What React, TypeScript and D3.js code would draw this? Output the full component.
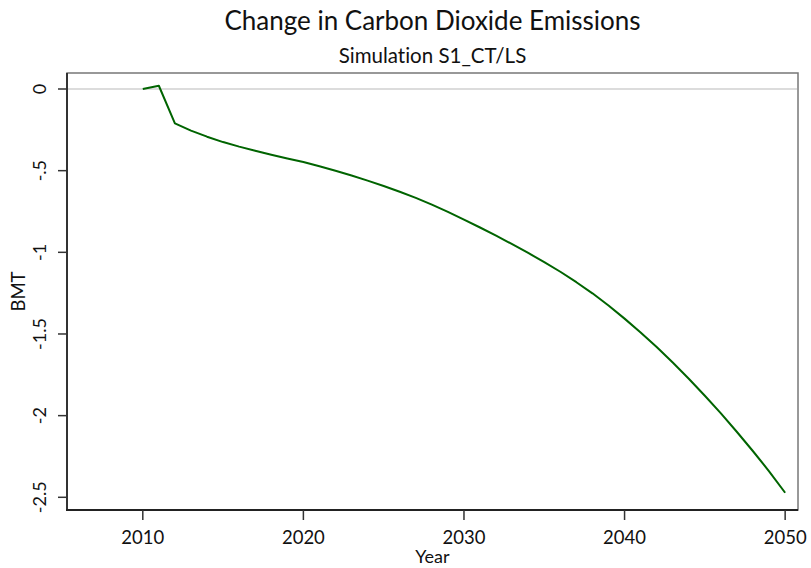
import React from "react";
import * as d3 from "d3";

const years: number[] = [
  2010, 2011, 2012, 2013, 2014, 2015, 2016, 2017, 2018, 2019,
  2020, 2021, 2022, 2023, 2024, 2025, 2026, 2027, 2028, 2029,
  2030, 2031, 2032, 2033, 2034, 2035, 2036, 2037, 2038, 2039,
  2040, 2041, 2042, 2043, 2044, 2045, 2046, 2047, 2048, 2049, 2050,
];
const co2Change: number[] = [
  0, 0.02, -0.21, -0.255, -0.292, -0.325, -0.353, -0.378, -0.402, -0.425,
  -0.447, -0.473, -0.501, -0.53, -0.561, -0.594, -0.629, -0.667, -0.708, -0.752,
  -0.8, -0.848, -0.898, -0.95, -1.004, -1.06, -1.119, -1.183, -1.251, -1.326,
  -1.406, -1.491, -1.58, -1.675, -1.774, -1.878, -1.986, -2.1, -2.218, -2.341, -2.472,
];
const xTicks: number[] = [2010, 2020, 2030, 2040, 2050];
const yTicks: number[] = [0, -0.5, -1, -1.5, -2, -2.5];
const yTickLabels: string[] = ["0", "-.5", "-1", "-1.5", "-2", "-2.5"];

const W = 811;
const H = 568;
const left = 67, right = 798, top = 73, bottom = 510;
const FONT = "Lato, 'Noto Sans', sans-serif";
const noLig: React.CSSProperties = { fontFeatureSettings: '"liga" 0, "clig" 0', fontVariantLigatures: "none" };

export default function App() {
  const x = d3.scaleLinear().domain([2005.28, 2050.8]).range([left, right]);
  const y = d3.scaleLinear().domain([0, -2.5]).range([89, 497.3]);
  const line = d3
    .line<number>()
    .x((_, i) => x(years[i]))
    .y((d) => y(d));
  const cx = (left + right) / 2;

  return (
    <svg
      width={W}
      height={H}
      style={{ position: "absolute", left: 0, top: 0, background: "#fff", ...noLig }}
      fontFamily={FONT}
    >
      <rect x={0} y={0} width={W} height={H} fill="#fff" />
      <text x={cx} y={30} textAnchor="middle" fontSize={26} fill="#111" style={noLig}>
        Change in Carbon Dioxide Emissions
      </text>
      <text x={cx} y={63} textAnchor="middle" fontSize={20.5} fill="#111" style={noLig}>
        Simulation S1_CT/LS
      </text>
      {/* plot frame */}
      <rect x={left} y={top} width={right - left} height={bottom - top} fill="#fff" stroke="#777" strokeWidth={1.5} />
      {/* zero gridline */}
      <line x1={left + 1} x2={right - 1} y1={y(0)} y2={y(0)} stroke="#dcdcdc" strokeWidth={2} />
      {/* axes */}
      <line x1={left} x2={left} y1={top} y2={bottom + 1} stroke="#333" strokeWidth={2} />
      <line x1={left - 1} x2={right} y1={bottom} y2={bottom} stroke="#222" strokeWidth={2} />
      {yTicks.map((t, i) => (
        <g key={"y" + i}>
          <line x1={left - 9} x2={left} y1={y(t)} y2={y(t)} stroke="#333" strokeWidth={1.5} />
          <text
            transform={`translate(${left - 21},${y(t)}) rotate(-90)`}
            textAnchor="middle"
            fontSize={18}
            fill="#111"
          >
            {yTickLabels[i]}
          </text>
        </g>
      ))}
      {xTicks.map((t) => (
        <g key={"x" + t}>
          <line x1={x(t)} x2={x(t)} y1={bottom} y2={bottom + 10} stroke="#333" strokeWidth={1.5} />
          <text x={x(t)} y={544} textAnchor="middle" fontSize={18.5} fill="#111">
            {t}
          </text>
        </g>
      ))}
      <text x={cx} y={563} textAnchor="middle" fontSize={18} fill="#111">
        Year
      </text>
      <text transform={`translate(25,${(top + bottom) / 2}) rotate(-90)`} textAnchor="middle" fontSize={18.5} fill="#111">
        BMT
      </text>
      <path d={line(co2Change) ?? ""} fill="none" stroke="#006400" strokeWidth={2} strokeLinejoin="round" />
    </svg>
  );
}
